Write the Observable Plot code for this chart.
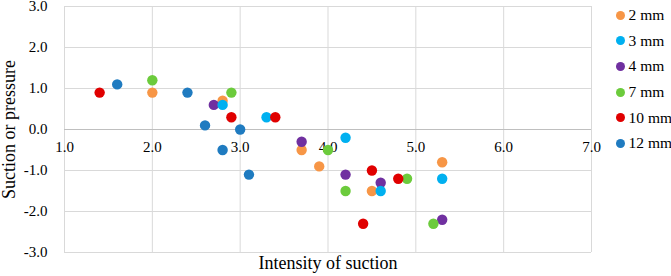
<!DOCTYPE html>
<html><head><meta charset="utf-8">
<script src="https://cdn.jsdelivr.net/npm/d3@7"></script>
<script src="https://cdn.jsdelivr.net/npm/@observablehq/plot@0.6"></script>
<style>
body{margin:0;background:#fff;}
#wrap{position:relative;width:671px;height:276px;overflow:hidden;font-family:'Liberation Serif','Times New Roman',Times,serif;}
#legend{position:absolute;left:615.5px;top:2.5px;}
.item{display:flex;align-items:center;height:25.6px;font-size:15.5px;color:#000;white-space:nowrap;}
.sw{width:9px;height:9px;border-radius:50%;margin-right:4px;flex:none;}
</style></head><body><div id="wrap"><div id="legend"></div></div>
<script>
const series = ["2 mm", "3 mm", "4 mm", "7 mm", "10 mm", "12 mm"];
const colors = ["#F79646", "#00B0F0", "#7030A0", "#6CCB3C", "#E00000", "#1F7BC0"];
const x2mm = [2.0, 2.8, 3.7, 3.9, 5.3, 4.5];
const y2mm = [0.9, 0.7, -0.5, -0.9, -0.8, -1.5];
const x3mm = [2.8, 3.3, 4.2, 5.3, 4.6];
const y3mm = [0.6, 0.3, -0.2, -1.2, -1.5];
const x4mm = [2.7, 3.7, 4.2, 4.6, 5.3];
const y4mm = [0.6, -0.3, -1.1, -1.3, -2.2];
const x7mm = [2.0, 2.9, 4.0, 4.9, 4.2, 5.2];
const y7mm = [1.2, 0.9, -0.5, -1.2, -1.5, -2.3];
const x10mm = [1.4, 2.9, 3.4, 4.5, 4.8, 4.4];
const y10mm = [0.9, 0.3, 0.3, -1.0, -1.2, -2.3];
const x12mm = [1.6, 2.4, 2.6, 3.0, 2.8, 3.1];
const y12mm = [1.1, 0.9, 0.1, 0.0, -0.5, -1.1];
const xTicks = [1, 2, 3, 4, 5, 6, 7];
const yTicks = [-3, -2, -1, 0, 1, 2, 3];
const xTitle = "Intensity of suction";
const yTitle = "Suction or pressure";

const xs = [x2mm, x3mm, x4mm, x7mm, x10mm, x12mm];
const ys = [y2mm, y3mm, y4mm, y7mm, y10mm, y12mm];
const drawOrder = [0, 2, 1, 3, 4, 5];
const rows = [];
for (const i of drawOrder) xs[i].forEach((x, j) => rows.push({s: series[i], x, y: ys[i][j]}));

const chart = Plot.plot({
  width: 671, height: 276,
  marginLeft: 64, marginRight: 80, marginTop: 6, marginBottom: 24,
  style: {fontFamily: "'Liberation Serif','Times New Roman',Times,serif", fontSize: "15px", color: "#000", background: "#fff"},
  x: {domain: [1, 7], axis: null},
  y: {domain: [-3, 3], axis: null},
  color: {domain: series, range: colors},
  marks: [
    Plot.gridX(xTicks, {stroke: "#D9D9D9", strokeOpacity: 1}),
    Plot.gridY(yTicks, {stroke: "#D9D9D9", strokeOpacity: 1}),
    Plot.ruleY([0], {stroke: "#BFBFBF"}),
    Plot.axisY(yTicks, {tickSize: 0, tickPadding: 17, tickFormat: d => d.toFixed(1), label: null, fill: "#000"}),
    Plot.text(xTicks, {x: d => d, y: d => 0, text: d => d.toFixed(1), dy: 18, fill: "#000"}),
    Plot.dot(rows, {x: "x", y: "y", fill: "s", r: 5.2, stroke: "none"}),
    Plot.text([xTitle], {frameAnchor: "bottom", dy: 16, fontSize: 18, fill: "#000"}),
    Plot.text([yTitle], {frameAnchor: "left", textAnchor: "middle", dx: -55, rotate: -90, fontSize: 18, fill: "#000"})
  ]
});
const wrap = document.getElementById("wrap");
wrap.insertBefore(chart, wrap.firstChild);
const leg = document.getElementById("legend");
series.forEach((s, i) => {
  const d = document.createElement("div");
  d.className = "item";
  d.innerHTML = `<span class="sw" style="background:${colors[i]}"></span><span>${s}</span>`;
  leg.appendChild(d);
});
</script></body></html>
